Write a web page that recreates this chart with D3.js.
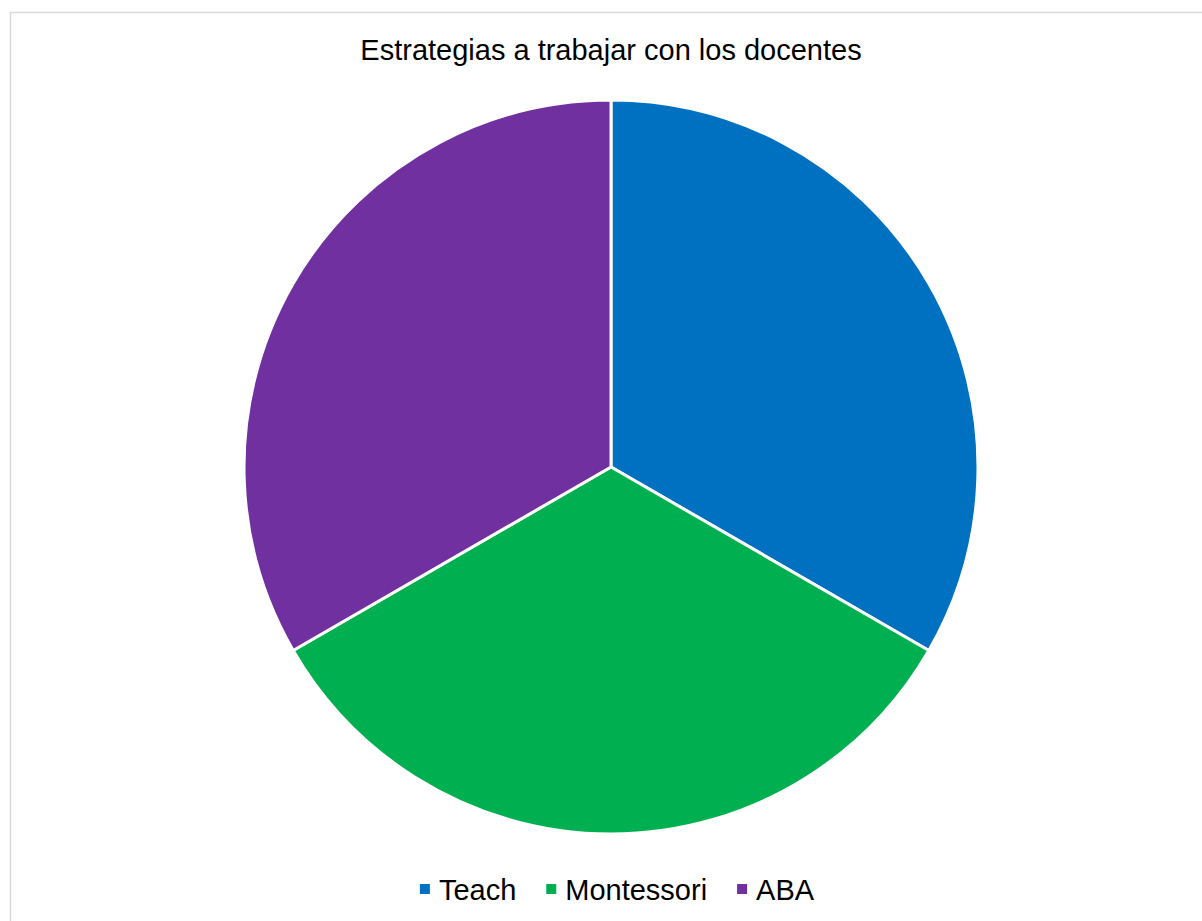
<!DOCTYPE html>
<html>
<head>
<meta charset="utf-8">
<script src="https://cdn.jsdelivr.net/npm/d3@7"></script>
<style>
  body { margin: 0; background: #fff; }
  text { font-family: Arial, "Liberation Sans", sans-serif; fill: #000; }
</style>
</head>
<body>
<div id="chart"></div>
<script>
var categories = ["Teach", "Montessori", "ABA"];
var values = [1, 1, 1];
var colors = ["#0070C0", "#00B050", "#7030A0"];
var title = "Estrategias a trabajar con los docentes";

var width = 1202, height = 921;

var svg = d3.select("#chart").append("svg")
    .attr("width", width)
    .attr("height", height);

// chart area border
svg.append("rect")
    .attr("x", 10.5)
    .attr("y", 12.5)
    .attr("width", 1300)
    .attr("height", 1000)
    .style("fill", "#fff")
    .style("stroke", "#d9d9d9")
    .style("stroke-width", 1.5);

svg.append("text")
    .attr("x", 611)
    .attr("y", 60)
    .attr("text-anchor", "middle")
    .style("font-size", "29px")
    .text(title);

var data = categories.map(function(c, i) { return { name: c, value: values[i], color: colors[i] }; });

var pie = d3.pie()
    .sort(null)
    .value(function(d) { return d.value; });

var arc = d3.arc()
    .innerRadius(0)
    .outerRadius(367);

var g = svg.append("g")
    .attr("transform", "translate(611,467)");

g.selectAll("path")
    .data(pie(data))
    .enter().append("path")
    .attr("d", arc)
    .style("fill", function(d) { return d.data.color; })
    .style("stroke", "#fff")
    .style("stroke-width", 3)
    .style("stroke-linejoin", "round");

// legend
var legend = svg.append("g");
var x = 0;
data.forEach(function(d) {
    var item = legend.append("g").attr("transform", "translate(" + x + ",0)");
    item.append("rect")
        .attr("x", 0).attr("y", -16)
        .attr("width", 10).attr("height", 10)
        .style("fill", d.color);
    var t = item.append("text")
        .attr("x", 19)
        .attr("y", 0)
        .style("font-size", "29px")
        .text(d.name);
    x += 19 + t.node().getComputedTextLength() + 30;
});
var total = x - 30;
legend.attr("transform", "translate(" + (617 - total / 2) + ",900)");
</script>
</body>
</html>
